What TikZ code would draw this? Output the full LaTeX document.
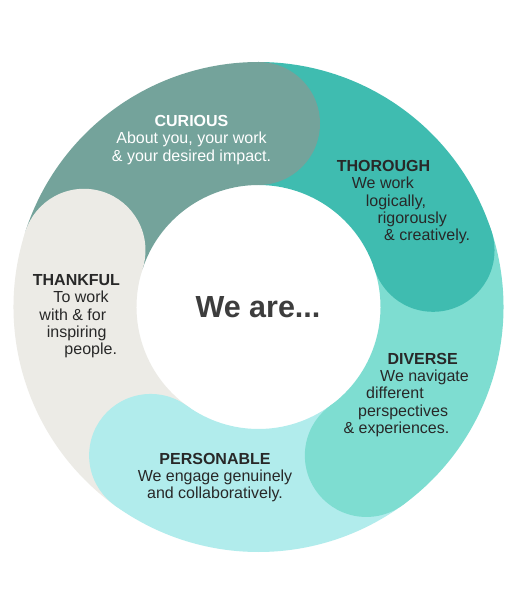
\documentclass[tikz,border=0pt]{standalone}
\usepackage{fontspec}
\setmainfont{Liberation Sans}
\usepackage{xcolor}
\usepackage{tikz}
\usetikzlibrary{positioning}
\definecolor{curiousc}{HTML}{74A39B}
\definecolor{thoroughc}{HTML}{3FBCB0}
\definecolor{diversec}{HTML}{7EDDD1}
\definecolor{personc}{HTML}{B1ECEC}
\definecolor{thankc}{HTML}{ECEBE6}
\definecolor{inkx}{HTML}{282828}
\definecolor{greyx}{HTML}{3D3D3D}
\tikzset{
  txt/.style={font=\fontsize{16}{17.4}\selectfont,text=inkx,inner sep=0pt,align=left},
  big/.style={font=\fontsize{30.5}{34}\selectfont\bfseries,text=greyx,inner sep=0pt}
}
\newcommand{\hd}[1]{\textbf{#1}}

\begin{document}
\begin{tikzpicture}[x=1pt,y=1pt]
\useasboundingbox[fill=white] (-258.5,-306) rectangle (258.5,307);
% ring bands, 72 deg each, clockwise from the top left
\foreach \a/\c in {162/curiousc,90/thoroughc,18/diversec,-54/personc,-126/thankc}{
  \fill[\c] (\a:245) arc[start angle=\a,delta angle=-72,radius=245] -- ({\a-72}:122) arc[start angle={\a-72},delta angle=72,radius=122] -- cycle;}
% rounded heads lying over the next band
\foreach \a/\c in {162/curiousc,90/thoroughc,18/diversec,-54/personc,-126/thankc}{
  \fill[\c] ({\a-72}:183.5) circle (61.5);}
\node[big,anchor=base] (weare) at (-0.5,-10) {We are...};
\node[txt,text=white,align=center,anchor=north] (curious) at (-67,192) {\hd{CURIOUS}\\About you, your work\\\& your desired impact.};
\node[txt,anchor=north west] (thorough) at (78.2,147) {\hd{THOROUGH}\\\hspace*{15pt}We work\\\hspace*{29pt}logically,\\\hspace*{40.6pt}rigorously\\\hspace*{47.3pt}\& creatively.};
\node[txt,anchor=north west] (diverse) at (84.8,-45.7) {\hspace*{44pt}\hd{DIVERSE}\\\hspace*{36.7pt}We navigate\\\hspace*{22.7pt}different\\\hspace*{14.7pt}perspectives\\\& experiences.};
\node[txt,align=center,anchor=north] (personable) at (-43.5,-145.7) {\hd{PERSONABLE}\\We engage genuinely\\and collaboratively.};
\node[txt,anchor=north west] (thankful) at (-225.8,33) {\hd{THANKFUL}\\\hspace*{20.6pt}To work\\\hspace*{6.6pt}with \& for\\\hspace*{14pt}inspiring\\\hspace*{31.6pt}people.};
\end{tikzpicture}
\end{document}
